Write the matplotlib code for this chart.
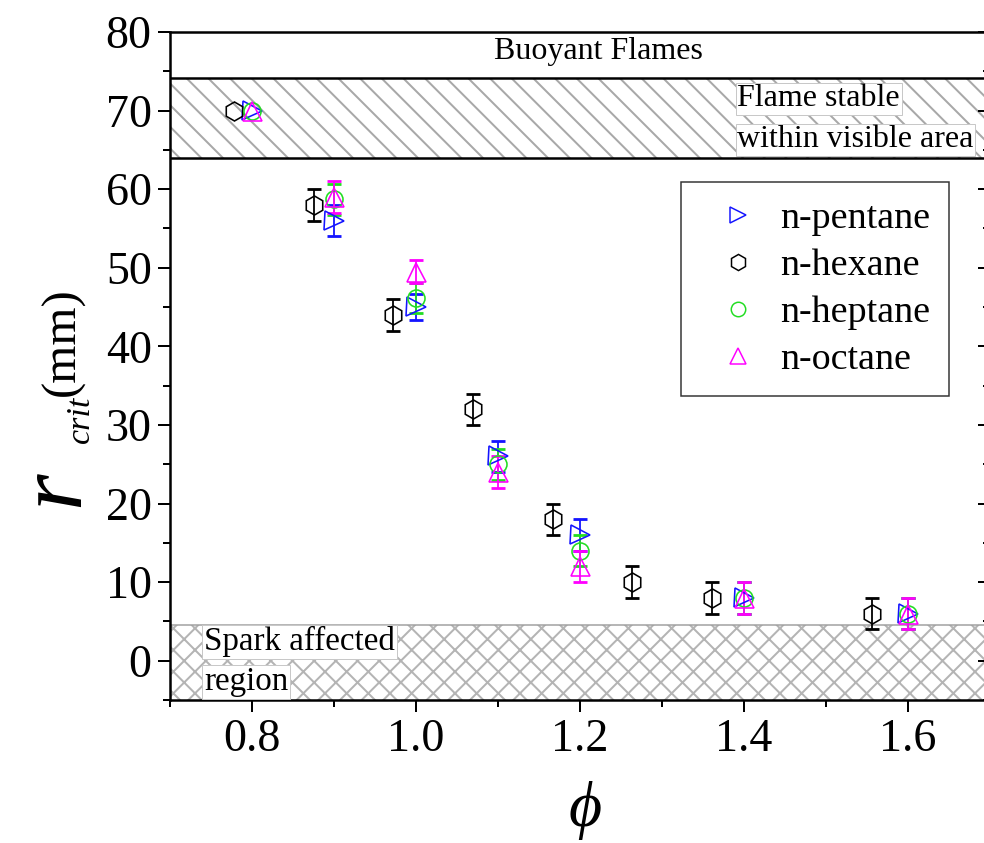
import numpy as np
import matplotlib
matplotlib.use("Agg")
import matplotlib.pyplot as plt
from matplotlib.lines import Line2D
from matplotlib.ticker import MultipleLocator

# Critical radius vs. equivalence ratio for four alkanes

phi = [0.8, 0.9, 1.0, 1.1, 1.2, 1.4, 1.6]
phi_hexane = [0.778, 0.875, 0.972, 1.069, 1.167, 1.264, 1.361, 1.556]

r_pentane = [70, 56, 45, 26, 16, 8, 6]
r_hexane = [70, 58, 44, 32, 18, 10, 8, 6]
r_heptane = [70, 58.7, 46.2, 25, 14, 8, 6]
r_octane = [70, 59, 49.5, 24, 12, 8, 6]

err_pentane = [0, 2, 1.7, 2, 2, 2, 2]
err_hexane = [0, 2, 2, 2, 2, 2, 2, 2]
err_heptane = [0, 2, 1.9, 2, 2, 2, 2]
err_octane = [0, 2, 1.5, 2, 2, 2, 2]

names = ["n-pentane", "n-hexane", "n-heptane", "n-octane"]

DPI = 130
W, H = 984, 843


def px(v):
    # pixel size -> points at the working dpi
    return v * 72 / DPI


plt.rcParams["font.family"] = ["Liberation Serif", "DejaVu Serif"]
plt.rcParams["mathtext.fontset"] = "custom"
plt.rcParams["mathtext.rm"] = "Liberation Serif"
plt.rcParams["mathtext.it"] = "Liberation Serif:italic"
plt.rcParams["hatch.linewidth"] = px(2)

fig = plt.figure(figsize=(W / DPI, H / DPI), dpi=DPI)
ax = fig.add_axes([170 / W, (H - 700) / H, 820 / W, 668 / H])
ax.set_xlim(0.7, 1.7)
ax.set_ylim(-5, 80)

# shaded regions
ax.axhspan(64, 74.2, facecolor="white", edgecolor="#a8a8a8", hatch="\\\\", lw=0, zorder=0)
ax.axhline(64, color="black", lw=px(2.5), zorder=1)
ax.axhline(74.2, color="black", lw=px(2.5), zorder=1)
ax.axhspan(-5, 4.5, facecolor="white", edgecolor="#b4b4b4", hatch="xx", lw=0, zorder=0)
ax.axhline(4.5, color="#a0a0a0", lw=px(1.5), zorder=1)

series = [
    (phi, r_pentane, err_pentane, ">", "#1414ff"),
    (phi_hexane, r_hexane, err_hexane, "h", "black"),
    (phi, r_heptane, err_heptane, "o", "#22dd22"),
    (phi, r_octane, err_octane, "^", "#ff00ff"),
]
msize = {">": 19, "h": 19, "o": 17, "^": 19}

handles = []
for (x, y, e, m, c), name in zip(series, names):
    x, y, e = np.array(x), np.array(y), np.array(e)
    ok = e > 0
    ax.errorbar(x[ok], y[ok], yerr=e[ok], fmt="none", ecolor=c,
                elinewidth=px(1.8), capsize=px(7), capthick=px(2.8), zorder=3)
    ax.plot(x, y, ls="none", marker=m, ms=px(msize[m]), mfc="none",
            mec=c, mew=px(1.6), zorder=4)
    handles.append(Line2D([], [], ls="none", marker=m, ms=px(msize[m] * 0.85),
                          mfc="none", mec=c, mew=px(1.5), label=name))

leg = ax.legend(handles=handles, loc="upper left", bbox_to_anchor=(0.623, 0.775),
                fontsize=px(38), frameon=True, fancybox=False, framealpha=1,
                edgecolor="#333333", borderpad=0.5, handlelength=2.0,
                handletextpad=0.1, labelspacing=0.33, borderaxespad=0)
leg.get_frame().set_linewidth(px(1.5))

# region labels
box = dict(boxstyle="square,pad=0.05", facecolor="white", edgecolor="#c8c8c8", lw=px(1))
ax.text(1.2227, 77.5, "Buoyant Flames", ha="center", va="center", fontsize=px(32))
ax.text(1.392, 71.5, "Flame stable", ha="left", va="center", fontsize=px(32), bbox=box, zorder=5)
ax.text(1.392, 66.3, "within visible area", ha="left", va="center", fontsize=px(32), bbox=box, zorder=5)
ax.text(0.7415, 2.4, "Spark affected", ha="left", va="center", fontsize=px(33), bbox=box, zorder=5)
ax.text(0.7415, -2.7, "region", ha="left", va="center", fontsize=px(33), bbox=box, zorder=5)

# ticks
ax.xaxis.set_major_locator(MultipleLocator(0.2))
ax.xaxis.set_minor_locator(MultipleLocator(0.1))
ax.yaxis.set_major_locator(MultipleLocator(10))
ax.yaxis.set_minor_locator(MultipleLocator(5))
ax.xaxis.set_major_formatter(plt.FuncFormatter(lambda v, p: f"{v:.1f}"))
ax.tick_params(which="both", direction="out", width=px(2), labelsize=px(46))
ax.tick_params(which="major", length=px(12))
ax.tick_params(which="minor", length=px(7))
for s in ax.spines.values():
    s.set_linewidth(px(2.5))

sec = ax.secondary_yaxis("right")
sec.yaxis.set_major_locator(MultipleLocator(10))
sec.yaxis.set_minor_locator(MultipleLocator(5))
sec.tick_params(which="both", direction="in", width=px(2), labelright=False)
sec.tick_params(which="major", length=px(12))
sec.tick_params(which="minor", length=px(7))

# axis labels
fig.text(585 / W, 1 - 810 / H, "ϕ", style="italic", ha="center", va="center", fontsize=px(64))
fig.text(78 / W, 1 - 507 / H, "r", style="italic", rotation=90, rotation_mode="anchor",
         ha="left", va="baseline", fontsize=px(94))
fig.text(89 / W, 1 - 443 / H, "crit", style="italic", rotation=90, rotation_mode="anchor",
         ha="left", va="baseline", fontsize=px(34))
fig.text(74 / W, 1 - 396 / H, "(mm)", rotation=90, rotation_mode="anchor",
         ha="left", va="baseline", fontsize=px(49))

fig.savefig("out.png", dpi=DPI)
